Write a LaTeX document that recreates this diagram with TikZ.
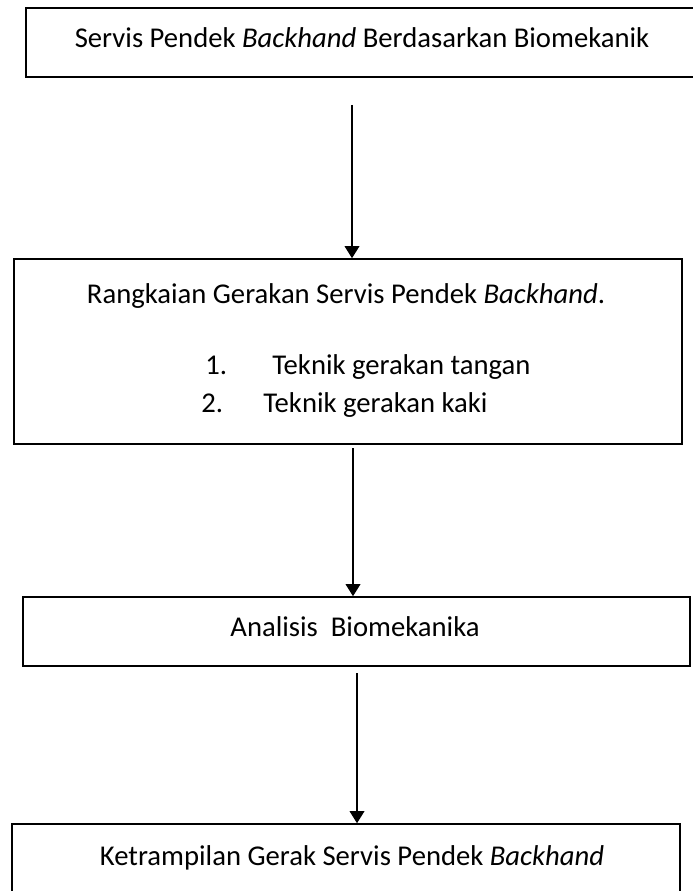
\documentclass[tikz,border=0pt]{standalone}
\usepackage{fontspec}
\setmainfont{Carlito}
\usetikzlibrary{arrows.meta,fit}

\begin{document}
\begin{tikzpicture}[x=0.75pt,y=-0.75pt,
        box/.style={draw,line width=1.2pt,inner sep=0pt},
        lbl/.style={font=\fontsize{21.5}{26}\selectfont,inner sep=0pt},
        flow/.style={line width=1pt,-{Triangle[length=9pt,width=11pt]}}]
        \useasboundingbox (0,0) rectangle (692,891);

        \node[box,fit={(26,8) (712,77)}] (servis) {};
        \node[lbl] (servistxt) at (362,38) {Servis Pendek \textit{Backhand} Berdasarkan Biomekanik};

        \node[box,fit={(14,259) (682,444)}] (rangkaian) {};
        \node[lbl] (rangkaiantxt) at (346,296) {Rangkaian Gerakan Servis Pendek \textit{Backhand}.};
        \node[lbl,anchor=base west] (num1) at (205,374) {1.};
        \node[lbl,anchor=base west] (item1) at (272,374) {Teknik gerakan tangan};
        \node[lbl,anchor=base west] (num2) at (201,412) {2.};
        \node[lbl,anchor=base west] (item2) at (263,412) {Teknik gerakan kaki};

        \node[box,fit={(23,597) (690,666)}] (analisis) {};
        \node[lbl] (analisistxt) at (355,627) {Analisis\ \ Biomekanika};

        \node[box,fit={(12,824) (680,905)}] (ketrampilan) {};
        \node[lbl] (ketrampilantxt) at (352,858) {Ketrampilan Gerak Servis Pendek \textit{Backhand}};

        \coordinate (a1) at (352,105);
        \coordinate (a2) at (353,448);
        \coordinate (a3) at (357,673);
        \draw[flow] (a1) -- (a1 |- rangkaian.north);
        \draw[flow] (a2) -- (a2 |- analisis.north);
        \draw[flow] (a3) -- (a3 |- ketrampilan.north);
\end{tikzpicture}
\end{document}
